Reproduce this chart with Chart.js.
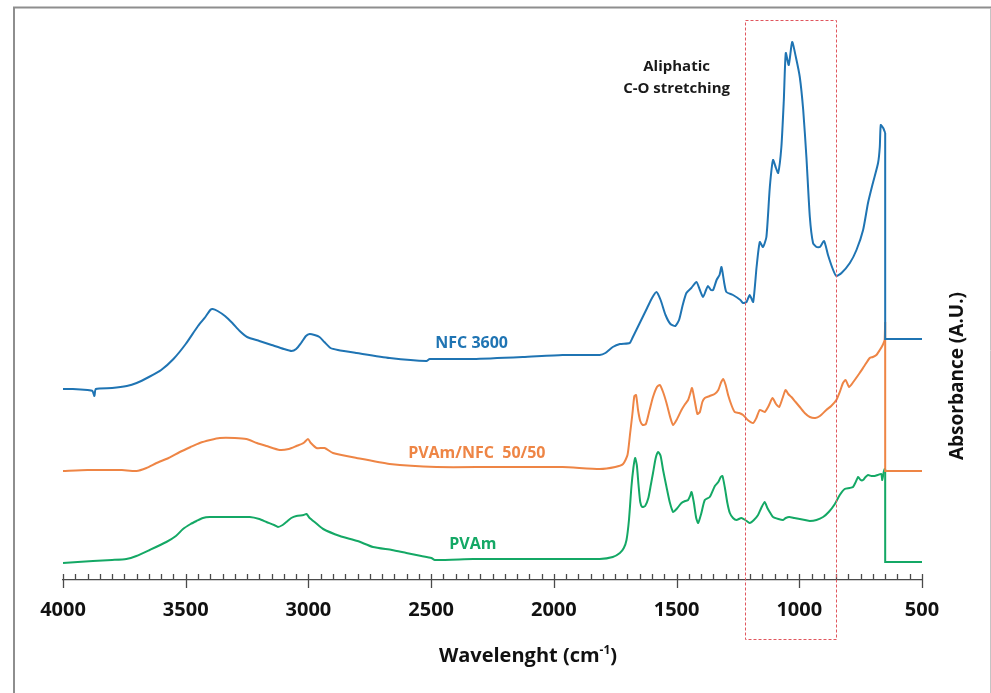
<!DOCTYPE html>
<html>
<head>
<meta charset="utf-8">
<script src="https://cdn.jsdelivr.net/npm/chart.js@4.4.1/dist/chart.umd.min.js"></script>
<style>
html,body{margin:0;padding:0;background:#fff;}
#wrap{position:relative;width:991px;height:693px;}
</style>
</head>
<body>
<div id="wrap"><canvas id="c"></canvas></div>
<script>
// ---- data (wavenumber in cm-1, absorbance in arbitrary offset units) ----
const nfcWavenumber = [4000,3960,3900,3880,3872,3866,3800,3740,3700,3650,3600,3550,3500,3450,3420,3400,3390,3370,3340,3310,3280,3250,3200,3150,3100,3069,3050,3030,3010,2995,2975,2955,2935,2910,2880,2804,2669,2519,2506,2329,2126,1965,1813,1790,1760,1731,1691,1680,1650,1620,1600,1582,1565,1545,1525,1505,1490,1475,1460,1440,1419,1405,1392,1380,1372,1360,1351,1337,1325,1317,1305,1297,1270,1240,1229,1215,1202,1188,1174,1161,1148,1134,1120,1107,1095,1086,1073,1063,1055,1043,1029,1014,998,984,971,957,944,930,916,899,883,862,849,828,794,767,740,720,699,679,672,668,658,650];
const nfcAbsorbance = [1.91,1.91,1.90,1.89,1.84,1.91,1.92,1.94,1.97,2.03,2.10,2.21,2.36,2.54,2.63,2.70,2.71,2.69,2.64,2.57,2.49,2.43,2.39,2.35,2.31,2.29,2.31,2.37,2.44,2.46,2.45,2.43,2.38,2.32,2.30,2.27,2.22,2.19,2.21,2.21,2.23,2.25,2.25,2.27,2.33,2.36,2.37,2.42,2.57,2.72,2.82,2.88,2.80,2.65,2.56,2.54,2.60,2.75,2.87,2.92,2.98,2.90,2.83,2.90,2.94,2.90,2.90,3.00,3.05,3.13,2.96,2.88,2.85,2.80,2.77,2.78,2.85,2.78,3.13,3.38,3.33,3.43,3.93,4.20,4.12,4.07,4.33,4.80,5.27,5.15,5.38,5.23,5.03,4.70,4.23,3.63,3.37,3.33,3.33,3.39,3.25,3.10,3.04,3.07,3.17,3.30,3.50,3.77,3.98,4.17,4.33,4.55,4.52,4.47];
const nfcStepWavenumber = [650,650,500];
const nfcStepAbsorbance = [4.47,2.41,2.41];

const blendWavenumber = [4000,3900,3823,3760,3701,3660,3619,3570,3524,3480,3443,3400,3361,3300,3253,3210,3171,3117,3080,3049,3020,3002,2990,2967,2934,2900,2804,2669,2478,2261,1965,1813,1750,1718,1700,1690,1680,1672,1665,1657,1648,1638,1625,1610,1596,1580,1568,1555,1541,1525,1514,1500,1480,1465,1453,1445,1437,1425,1415,1405,1395,1385,1365,1345,1330,1318,1310,1300,1290,1275,1263,1245,1229,1210,1188,1175,1161,1141,1125,1109,1095,1082,1068,1056,1045,1032,1015,998,978,957,935,916,890,870,849,835,822,811,797,780,754,735,713,700,686,672,660,652];
const blendAbsorbance = [1.09,1.10,1.10,1.10,1.09,1.12,1.17,1.22,1.28,1.33,1.37,1.40,1.42,1.42,1.41,1.37,1.34,1.30,1.31,1.34,1.37,1.41,1.37,1.32,1.32,1.27,1.22,1.16,1.13,1.13,1.13,1.11,1.13,1.16,1.25,1.45,1.66,1.84,1.85,1.70,1.59,1.55,1.56,1.70,1.83,1.93,1.95,1.88,1.77,1.62,1.55,1.60,1.70,1.76,1.80,1.86,1.92,1.78,1.66,1.68,1.78,1.82,1.84,1.86,1.90,1.98,2.01,1.95,1.85,1.74,1.68,1.67,1.65,1.60,1.57,1.62,1.70,1.68,1.74,1.82,1.76,1.73,1.82,1.90,1.86,1.83,1.78,1.73,1.67,1.63,1.62,1.64,1.70,1.74,1.80,1.88,1.97,2.00,1.93,1.98,2.07,2.14,2.22,2.23,2.25,2.30,2.35,2.40];
const blendStepWavenumber = [652,650,650,500];
const blendStepAbsorbance = [2.40,2.58,1.09,1.09];

const pvamWavenumber = [4000,3940,3878,3800,3742,3701,3647,3579,3540,3511,3480,3456,3430,3402,3321,3239,3200,3171,3140,3124,3105,3090,3070,3049,3020,3008,2995,2970,2940,2872,2800,2737,2660,2601,2540,2499,2485,2329,2126,1965,1813,1760,1731,1715,1704,1694,1684,1676,1669,1662,1655,1648,1640,1628,1615,1605,1596,1585,1575,1565,1555,1541,1528,1514,1500,1480,1465,1453,1445,1439,1430,1420,1412,1400,1385,1365,1344,1330,1320,1313,1303,1293,1283,1270,1256,1236,1220,1202,1185,1168,1155,1141,1130,1118,1107,1085,1066,1055,1041,1020,998,977,957,930,903,880,855,835,815,795,781,770,760,750,740,730,720,706,693,680,666,662,656,652,650];
const pvamAbsorbance = [0.17,0.18,0.19,0.20,0.21,0.24,0.30,0.38,0.44,0.51,0.56,0.59,0.62,0.63,0.63,0.63,0.61,0.58,0.55,0.53,0.55,0.58,0.62,0.64,0.65,0.66,0.62,0.57,0.51,0.44,0.39,0.33,0.30,0.27,0.24,0.22,0.20,0.21,0.21,0.21,0.21,0.23,0.27,0.32,0.40,0.60,0.93,1.12,1.22,1.15,0.95,0.78,0.73,0.74,0.82,0.95,1.07,1.22,1.28,1.24,1.10,0.93,0.78,0.68,0.71,0.77,0.79,0.80,0.84,0.88,0.78,0.62,0.57,0.66,0.80,0.83,0.94,0.98,1.03,1.04,0.92,0.77,0.67,0.62,0.60,0.62,0.60,0.57,0.60,0.65,0.72,0.78,0.72,0.67,0.63,0.61,0.60,0.62,0.63,0.62,0.61,0.60,0.59,0.60,0.63,0.68,0.76,0.85,0.91,0.92,0.93,0.98,1.03,1.00,1.00,1.03,1.05,1.04,1.04,1.05,1.06,1.00,1.08,1.11,1.11];
const pvamStepWavenumber = [650,650,500];
const pvamStepAbsorbance = [1.11,0.18,0.18];

const seriesNames = ['NFC 3600','PVAm/NFC  50/50','PVAm'];
const seriesColors = ['#1f74b3','#ee8545','#14a865'];
const seriesLabelAt = [[2335,2.37],[2314,1.27],[2330,0.36]];   // label anchor (cm-1, abs)
const xTickLabels = [4000,3500,3000,2500,2000,1500,1000,500];
const highlightRange = [1222, 852];          // dashed box (cm-1)
const highlightAbs = [-0.59, 5.60];
const annotationLines = ['Aliphatic','C-O stretching'];
const annotationAt = [[1500,5.13],[1500,4.91]];

const FONT = '"Open Sans", "Liberation Sans", sans-serif';

function toPoints(xs, ys){ return xs.map((x,i)=>({x:x, y:ys[i]})); }

const deco = {
  id:'deco',
  beforeDraw(chart){
    const ctx = chart.ctx;
    ctx.save();
    ctx.strokeStyle = '#8e8e8e'; ctx.lineWidth = 2;
    ctx.beginPath(); ctx.moveTo(14,693); ctx.lineTo(14,7.5); ctx.lineTo(991,7.5); ctx.stroke();
    ctx.strokeStyle = '#c4c4c4'; ctx.lineWidth = 1;
    ctx.beginPath(); ctx.moveTo(990.5,8); ctx.lineTo(990.5,693); ctx.stroke();
    ctx.restore();
  },
  afterDraw(chart){
    const ctx = chart.ctx, a = chart.chartArea, x = chart.scales.x, y = chart.scales.y;
    ctx.save();
    // tick marks
    ctx.strokeStyle = '#4a4a4a'; ctx.lineWidth = 1.3;
    for (let v = 500; v <= 4000; v += 50){
      const px = Math.round(x.getPixelForValue(v)) + 0.5;
      const major = v % 500 === 0;
      ctx.beginPath(); ctx.moveTo(px, a.bottom - 6); ctx.lineTo(px, a.bottom + (major ? 8 : 0)); ctx.stroke();
    }
    // dashed highlight box
    const bx1 = x.getPixelForValue(highlightRange[0]), bx2 = x.getPixelForValue(highlightRange[1]);
    const by1 = y.getPixelForValue(highlightAbs[1]), by2 = y.getPixelForValue(highlightAbs[0]);
    ctx.strokeStyle = '#e0565e'; ctx.lineWidth = 1; ctx.setLineDash([3,2]);
    ctx.strokeRect(Math.round(bx1)+0.5, Math.round(by1)+0.5, Math.round(bx2-bx1), Math.round(by2-by1));
    ctx.setLineDash([]);
    // annotation
    ctx.fillStyle = '#1a1a1a'; ctx.font = 'bold 15px ' + FONT; ctx.textAlign = 'center'; ctx.textBaseline = 'middle';
    annotationLines.forEach((t,i)=>{ ctx.fillText(t, x.getPixelForValue(annotationAt[i][0]), y.getPixelForValue(annotationAt[i][1])); });
    // series labels
    ctx.font = 'bold 16px ' + FONT;
    seriesNames.forEach((t,i)=>{
      ctx.fillStyle = seriesColors[i];
      ctx.fillText(t, x.getPixelForValue(seriesLabelAt[i][0]), y.getPixelForValue(seriesLabelAt[i][1]));
    });
    // x axis title with superscript
    ctx.fillStyle = '#111'; ctx.textAlign = 'left'; ctx.textBaseline = 'alphabetic';
    const main = 'Wavelenght (cm', sup = '-1', close = ')';
    ctx.font = 'bold 20px ' + FONT; const w1 = ctx.measureText(main).width, w3 = ctx.measureText(close).width;
    ctx.font = 'bold 12px ' + FONT; const w2 = ctx.measureText(sup).width;
    const total = w1 + w2 + w3; let sx = 528 - total/2; const base = 662;
    ctx.font = 'bold 20px ' + FONT; ctx.fillText(main, sx, base);
    ctx.font = 'bold 12px ' + FONT; ctx.fillText(sup, sx + w1, base - 8);
    ctx.font = 'bold 20px ' + FONT; ctx.fillText(close, sx + w1 + w2, base);
    // y axis title on the right
    ctx.translate(958, 376); ctx.rotate(-Math.PI/2);
    ctx.textAlign = 'center'; ctx.textBaseline = 'middle'; ctx.font = 'bold 19px ' + FONT;
    ctx.fillText('Absorbance (A.U.)', 0, 0);
    ctx.restore();
  }
};

function curve(i, xs, ys){ return {label: seriesNames[i], data: toPoints(xs, ys), borderColor: seriesColors[i], tension: 0.2}; }
function step(i, xs, ys){ return {label: seriesNames[i] + ' step', data: toPoints(xs, ys), borderColor: seriesColors[i], tension: 0}; }

new Chart(document.getElementById('c'), {
  type: 'line',
  data: {
    datasets: [
      step(0, nfcStepWavenumber, nfcStepAbsorbance),
      curve(0, nfcWavenumber, nfcAbsorbance),
      step(1, blendStepWavenumber, blendStepAbsorbance),
      curve(1, blendWavenumber, blendAbsorbance),
      step(2, pvamStepWavenumber, pvamStepAbsorbance),
      curve(2, pvamWavenumber, pvamAbsorbance)
    ]
  },
  options: {
    responsive: true, maintainAspectRatio: false, animation: false,
    devicePixelRatio: 1,
    layout: {padding: {left: 63, right: 69, top: 20, bottom: 53}},
    elements: {point: {radius: 0}, line: {borderWidth: 2}},
    plugins: {legend: {display: false}, tooltip: {enabled: false}},
    scales: {
      x: {
        type: 'linear', min: 500, max: 4000, reverse: true,
        afterBuildTicks: (s)=>{ s.ticks = xTickLabels.map(v=>({value:v})); },
        afterFit: (s)=>{ s.height = 60; },
        grid: {display: false, drawTicks: false, drawOnChartArea: false},
        border: {display: true, color: '#4a4a4a', width: 1.3},
        ticks: {padding: 18, color: '#111', font: {family: FONT, size: 20, weight: 'bold'}, maxRotation: 0, autoSkip: false,
                callback: (v)=>String(v)}
      },
      y: {type: 'linear', min: 0, max: 5.6, display: false}
    }
  },
  plugins: [deco]
});
</script>
</body>
</html>
